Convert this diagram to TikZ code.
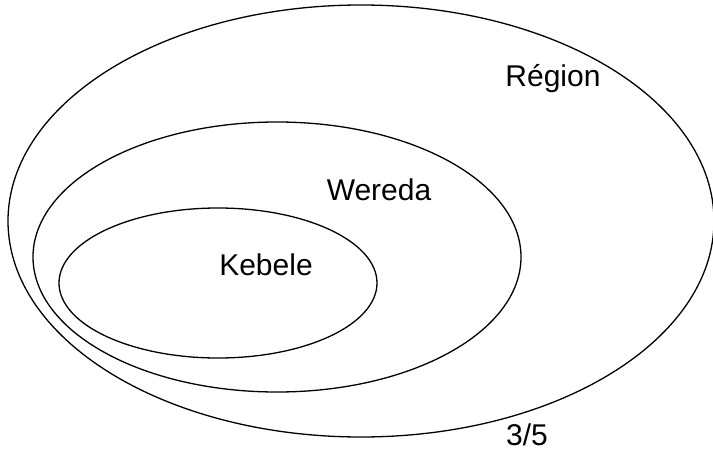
\documentclass[tikz,border=0pt]{standalone}
\usepackage{fontspec}
\setmainfont{Liberation Sans}
\usetikzlibrary{shapes.geometric}
\begin{document}
\begin{tikzpicture}[x=1pt,y=-1pt,
  zone/.style={draw=black,line width=1.3pt,ellipse,inner sep=0pt},
  lbl/.style={font=\fontsize{30}{34}\selectfont,inner sep=0pt}]
\useasboundingbox (0,0) rectangle (713,453);
\begin{scope}
\clip (0,0) rectangle (713,453);
\node[zone,minimum width=706pt,minimum height=432pt] (region) at (361,221) {};
\node[zone,minimum width=488pt,minimum height=270pt] (wereda) at (277,257) {};
\node[zone,minimum width=318pt,minimum height=150pt] (kebele) at (218,283) {};
\end{scope}
\node[lbl] (tregion) at (553,79) {Région};
\node[lbl] (twereda) at (379,190) {Wereda};
\node[lbl] (tkebele) at (266,265) {Kebele};
\node[lbl] (tfrac) at (527,435) {3/5};
\end{tikzpicture}
\end{document}
